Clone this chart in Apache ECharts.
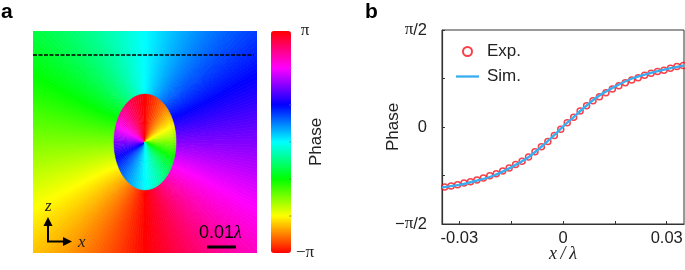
<!DOCTYPE html>
<html><head><meta charset="utf-8">
<style>html,body{margin:0;padding:0;background:#fff}#c{width:685px;height:270px}</style>
<script src="https://cdn.jsdelivr.net/npm/echarts@6/dist/echarts.min.js"></script>
</head><body><div id="c"></div>
<script>
// Panel a: phase (degrees), one value per equal angular sector, clockwise from straight down on the left side.
const outerPhase = [-179.25,-177.75,-176.25,-174.75,-173.25,-171.75,-170.25,-168.75,-167.25,-165.75,-164.25,-162.75,-161.25,-159.75,-158.25,-156.75,-155.25,-153.75,-152.25,-150.75,-149.25,-147.75,-146.25,-144.75,-143.25,-141.75,-140.25,-138.75,-137.25,-135.75,-134.25,-132.75,-131.25,-129.75,-128.25,-126.75,-125.25,-123.75,-122.25,-120.75,-119.25,-117.75,-116.25,-114.75,-113.25,-111.75,-110.25,-108.75,-107.25,-105.75,-104.25,-102.75,-101.25,-99.75,-98.25,-96.75,-95.25,-93.75,-92.25,-90.75,-89.25,-87.75,-86.25,-84.75,-83.25,-81.75,-80.25,-78.75,-77.25,-75.75,-74.25,-72.75,-71.25,-69.75,-68.25,-66.75,-65.25,-63.75,-62.25,-60.75,-59.25,-57.75,-56.25,-54.75,-53.25,-51.75,-50.25,-48.75,-47.25,-45.75,-44.25,-42.75,-41.25,-39.75,-38.25,-36.75,-35.25,-33.75,-32.25,-30.75,-29.25,-27.75,-26.25,-24.75,-23.25,-21.75,-20.25,-18.75,-17.25,-15.75,-14.25,-12.75,-11.25,-9.75,-8.25,-6.75,-5.25,-3.75,-2.25,-0.75,0.75,2.25,3.75,5.25,6.75,8.25,9.75,11.25,12.75,14.25,15.75,17.25,18.75,20.25,21.75,23.25,24.75,26.25,27.75,29.25,30.75,32.25,33.75,35.25,36.75,38.25,39.75,41.25,42.75,44.25,45.75,47.25,48.75,50.25,51.75,53.25,54.75,56.25,57.75,59.25,60.75,62.25,63.75,65.25,66.75,68.25,69.75,71.25,72.75,74.25,75.75,77.25,78.75,80.25,81.75,83.25,84.75,86.25,87.75,89.25,90.75,92.25,93.75,95.25,96.75,98.25,99.75,101.25,102.75,104.25,105.75,107.25,108.75,110.25,111.75,113.25,114.75,116.25,117.75,119.25,120.75,122.25,123.75,125.25,126.75,128.25,129.75,131.25,132.75,134.25,135.75,137.25,138.75,140.25,141.75,143.25,144.75,146.25,147.75,149.25,150.75,152.25,153.75,155.25,156.75,158.25,159.75,161.25,162.75,164.25,165.75,167.25,168.75,170.25,171.75,173.25,174.75,176.25,177.75,179.25];
const innerPhase = [1.5,4.5,7.5,10.5,13.5,16.5,19.5,22.5,25.5,28.5,31.5,34.5,37.5,40.5,43.5,46.5,49.5,52.5,55.5,58.5,61.5,64.5,67.5,70.5,73.5,76.5,79.5,82.5,85.5,88.5,91.5,94.5,97.5,100.5,103.5,106.5,109.5,112.5,115.5,118.5,121.5,124.5,127.5,130.5,133.5,136.5,139.5,142.5,145.5,148.5,151.5,154.5,157.5,160.5,163.5,166.5,169.5,172.5,175.5,178.5,-178.5,-175.5,-172.5,-169.5,-166.5,-163.5,-160.5,-157.5,-154.5,-151.5,-148.5,-145.5,-142.5,-139.5,-136.5,-133.5,-130.5,-127.5,-124.5,-121.5,-118.5,-115.5,-112.5,-109.5,-106.5,-103.5,-100.5,-97.5,-94.5,-91.5,-88.5,-85.5,-82.5,-79.5,-76.5,-73.5,-70.5,-67.5,-64.5,-61.5,-58.5,-55.5,-52.5,-49.5,-46.5,-43.5,-40.5,-37.5,-34.5,-31.5,-28.5,-25.5,-22.5,-19.5,-16.5,-13.5,-10.5,-7.5,-4.5,-1.5];
const ellipseSemiX = 0.0097, ellipseSemiZ = 0.0151;
const dashedLineX = [-0.035, 0.034];
const dashedLineZ = [0.0274, 0.0274];
const colorStops = ['#ff0000','#ffff00','#00ff00','#00ffff','#0000ff','#ff00ff','#ff0000'];
const barTicks = [-120,-60,0,60,120];
const barTickLabels = {'-180':'−π','180':'π'};

// Panel b: phase in units of pi
const expX = [-0.03423,-0.03236,-0.0305,-0.02863,-0.02677,-0.0249,-0.02303,-0.02117,-0.0193,-0.01744,-0.01557,-0.01371,-0.01184,-0.00997,-0.00811,-0.00624,-0.00438,-0.00251,-0.00065,0.00122,0.00309,0.00495,0.00682,0.00868,0.01055,0.01241,0.01428,0.01615,0.01801,0.01988,0.02174,0.02361,0.02547,0.02734,0.02921,0.03107,0.03294,0.03481];
const expY = [-0.3097,-0.3045,-0.2976,-0.2889,-0.282,-0.2734,-0.263,-0.2509,-0.2405,-0.2266,-0.2111,-0.1938,-0.1765,-0.154,-0.128,-0.1021,-0.0744,-0.0433,-0.0121,0.0225,0.0502,0.083,0.109,0.1349,0.1557,0.1765,0.1955,0.2128,0.2284,0.2422,0.2543,0.2664,0.2768,0.2855,0.2924,0.3028,0.3114,0.3166];
const simX = [-0.035,-0.03,-0.025,-0.02,-0.015,-0.01,-0.006,-0.003,0,0.003,0.006,0.01,0.015,0.02,0.025,0.03,0.035];
const simY = [-0.311,-0.2985,-0.277,-0.25,-0.208,-0.156,-0.098,-0.05,0.002,0.05,0.098,0.156,0.208,0.25,0.277,0.2985,0.318];
const xTicks = [-0.03,-0.015,0,0.015,0.03];
const xLabels = [-0.03,0,0.03];
const yLabelText = {'0.5':'{p|π}/2','0':'0','-0.5':'−{p|π}/2'};

const SANS = '"Liberation Sans"', SERIF = '"Liberation Serif"';
const chart = echarts.init(document.getElementById('c'), null, {renderer:'canvas'});

// rows: [sector start angle, sector end angle, phase]; sector width follows from the table length
function sectors(phases){
  const w = 360/phases.length;
  return phases.map((p,i)=>[-180+i*w, -180+(i+1)*w, p]);
}
const rad = d => d*Math.PI/180;
const focus = Math.sqrt(ellipseSemiZ*ellipseSemiZ-ellipseSemiX*ellipseSemiX);
const uStart = Math.atanh(ellipseSemiX/ellipseSemiZ) - 0.05;
// sector edges follow the confocal curves around the ellipse, as the bands in the picture do
function edge(deg, reverse){
  const t = rad(deg), pts = [];
  for(let k=0;k<=14;k++){
    const u = uStart + k*0.18;
    pts.push([focus*Math.sinh(u)*Math.sin(t), focus*Math.cosh(u)*Math.cos(t)]);
  }
  return reverse?pts.reverse():pts;
}
function renderOuter(p, api){
  const col = api.visual('color');
  const points = edge(api.value(0),false).concat(edge(api.value(1),true)).map(q=>api.coord(q));
  return {type:'polygon', shape:{points}, style:{fill:col, stroke:col, lineWidth:0.8}};
}
function ellipsePoint(d){
  const t = rad(d), s = Math.sin(t), k = Math.cos(t);
  const r = 1/Math.sqrt(s*s/(ellipseSemiX*ellipseSemiX)+k*k/(ellipseSemiZ*ellipseSemiZ));
  return [r*s, r*k];
}
function renderInner(p, api){
  const col = api.visual('color');
  const points = [api.coord([0,0]), api.coord(ellipsePoint(api.value(0))), api.coord(ellipsePoint(api.value(1)))];
  return {type:'polygon', shape:{points}, style:{fill:col, stroke:col, lineWidth:0.5}};
}

chart.setOption({
  animation:false,
  backgroundColor:'#fff',
  textStyle:{fontFamily:SANS},
  grid:[
    {left:33, top:31, width:224, height:222, outerBoundsMode:'none'},
    {left:271, top:31, width:20, height:222, outerBoundsMode:'none'},
    {left:442, top:30, width:242, height:194, outerBoundsMode:'none', show:true, borderColor:'#333', borderWidth:1}
  ],
  xAxis:[
    {gridIndex:0, type:'value', min:-0.035, max:0.035, show:false},
    {gridIndex:1, type:'value', min:0, max:1, show:false},
    {gridIndex:2, type:'value', min:-0.035, max:0.035, interval:0.005,
     splitLine:{show:false},
     axisLine:{onZero:false, lineStyle:{color:'#333', width:1.2}},
     axisTick:{inside:true, length:3, customValues:xTicks, lineStyle:{color:'#333'}},
     axisLabel:{customValues:xLabels, color:'#222', fontSize:16.5, fontFamily:SANS, margin:6, showMinLabel:true, showMaxLabel:true,
       formatter:v=>v===0?'0':v.toFixed(2)},
     name:'x\u2009/\u2009λ', nameLocation:'middle', nameGap:21, nameMoveOverlap:false,
     nameTextStyle:{fontFamily:SERIF, fontStyle:'italic', fontSize:18, color:'#222'}}
  ],
  yAxis:[
    {gridIndex:0, type:'value', min:-0.035, max:0.035, show:false},
    {gridIndex:1, type:'value', min:-180, max:180, interval:60, position:'right',
     splitLine:{show:false}, axisLine:{show:false}, axisTick:{show:false},
     axisLabel:{align:'center', margin:14, fontFamily:SERIF, fontSize:17, color:'#222', showMinLabel:true, showMaxLabel:true,
       formatter:v=>barTickLabels[v]||''},
     name:'Phase', nameLocation:'middle', nameGap:17, nameRotate:90, nameMoveOverlap:false,
     nameTextStyle:{fontFamily:SANS, fontSize:17, color:'#222'}},
    {gridIndex:2, type:'value', min:-0.5, max:0.5, interval:0.25,
     splitLine:{show:false},
     axisLine:{onZero:false, lineStyle:{color:'#333', width:1.2}},
     axisTick:{inside:true, length:3, lineStyle:{color:'#333'}},
     axisLabel:{color:'#222', fontSize:16.5, fontFamily:SANS, margin:15, showMinLabel:true, showMaxLabel:true,
       formatter:v=>yLabelText[String(v)]||'',
       rich:{p:{fontFamily:SERIF, fontSize:17, color:'#222'}}},
     name:'Phase', nameLocation:'middle', nameGap:40, nameMoveOverlap:false,
     nameTextStyle:{fontFamily:SANS, fontSize:17, color:'#222'}}
  ],
  visualMap:{type:'continuous', min:-180, max:180, dimension:2, seriesIndex:[0,1], calculable:false,
    left:271, top:31, itemWidth:20, itemHeight:222, padding:0, text:null,
    inRange:{color:colorStops}},
  legend:{left:456, top:43, orient:'vertical', itemGap:8, itemWidth:23, itemHeight:9, padding:0,
    data:[{name:'Exp.'},{name:'Sim.', icon:'path://M0,0H10V1H0Z', itemStyle:{color:'#39aef0', borderWidth:0}}], selectedMode:false,
    textStyle:{fontFamily:SANS, fontSize:17, color:'#222', padding:[0,0,0,3]}},
  series:[
    {type:'custom', xAxisIndex:0, yAxisIndex:0, clip:true, silent:true, renderItem:renderOuter,
     encode:{x:0,y:1}, data:sectors(outerPhase), z:1},
    {type:'custom', xAxisIndex:0, yAxisIndex:0, clip:true, silent:true, renderItem:renderInner,
     encode:{x:0,y:1}, data:sectors(innerPhase), z:2},
    {type:'line', xAxisIndex:0, yAxisIndex:0, data:dashedLineX.map((x,i)=>[x,dashedLineZ[i]]), symbol:'none', silent:true, z:3,
     lineStyle:{color:'#000', width:1.5, type:[4,1.5]}},
    {name:'Exp.', type:'scatter', xAxisIndex:2, yAxisIndex:2, data:expX.map((x,i)=>[x,expY[i]]), symbol:'circle', symbolSize:6, clip:false, z:3,
     itemStyle:{color:'rgba(0,0,0,0)', borderColor:'#f5101c', borderWidth:1.5}},
    {name:'Sim.', type:'line', xAxisIndex:2, yAxisIndex:2, data:simX.map((x,i)=>[x,simY[i]]), smooth:0.3, symbol:'none', z:4,
     lineStyle:{color:'#39aef0', width:2.4}, itemStyle:{color:'#39aef0'}},
    {type:'scatter', xAxisIndex:1, yAxisIndex:1, data:barTicks.map(v=>[0.97,v]), symbol:'rect', symbolSize:[2.5,1], silent:true, z:10,
     itemStyle:{color:'#777'}}
  ],
  graphic:[
    {type:'text', left:1, top:2, style:{text:'a', font:'bold 21px '+SANS, fill:'#000'}},
    {type:'text', left:365, top:2, style:{text:'b', font:'bold 21px '+SANS, fill:'#000'}},
    {type:'text', left:199, top:224, z:20, style:{text:'{n|0.01}{l|λ}', rich:{n:{font:'18px '+SANS, fill:'#000'}, l:{font:'italic 18px '+SERIF, fill:'#000'}}}},
    {type:'rect', shape:{x:207, y:245.5, width:29, height:3}, z:20, style:{fill:'#000'}},
    {type:'line', shape:{x1:48, y1:241.5, x2:48, y2:222}, z:20, style:{stroke:'#000', lineWidth:2}},
    {type:'line', shape:{x1:47, y1:241.5, x2:67, y2:241.5}, z:20, style:{stroke:'#000', lineWidth:2}},
    {type:'polygon', shape:{points:[[48,217],[43.5,226],[52.5,226]]}, z:20, style:{fill:'#000'}},
    {type:'polygon', shape:{points:[[72,241.5],[63,237],[63,246]]}, z:20, style:{fill:'#000'}},
    {type:'text', left:45, top:198, z:20, style:{text:'z', font:'italic 17px '+SERIF, fill:'#222'}},
    {type:'text', left:78, top:234, z:20, style:{text:'x', font:'italic 17px '+SERIF, fill:'#222'}}
  ]
});
</script></body></html>
